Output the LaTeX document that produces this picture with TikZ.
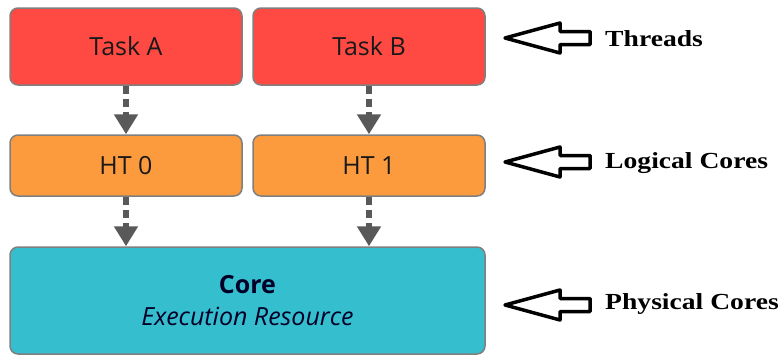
\documentclass[tikz,border=0pt]{standalone}
\usepackage{fontspec}
\setmainfont{Open Sans}
\newfontfamily\labelfont{Liberation Serif}
\usetikzlibrary{arrows.meta}

\definecolor{taskred}{HTML}{FF4A43}
\definecolor{htorange}{HTML}{FC9B3E}
\definecolor{coreteal}{HTML}{35BECE}
\definecolor{boxgray}{HTML}{7F7F7F}
\definecolor{flowgray}{HTML}{595959}

\tikzset{
  unitbox/.style={draw=boxgray, line width=1.5pt, rounded corners=8pt,
    inner sep=0pt, text=black!90,
    font=\fontsize{25}{32}\selectfont},
  flow/.style={draw=flowgray, line width=6pt, dash pattern=on 8pt off 5pt,
    -{Triangle[width=23pt,length=20pt,fill=flowgray]}},
  pointer/.style={draw=black, line width=3.5pt, line join=round},
  layer/.style={anchor=base west, inner sep=0pt, xscale=1.2,
    font=\labelfont\bfseries\fontsize{23}{26}\selectfont}
}

\begin{document}
\begin{tikzpicture}[x=1pt,y=-1pt]
  \useasboundingbox (0,0) rectangle (784,356);

  % threads
  \node[unitbox, fill=taskred, minimum width=232pt, minimum height=77pt]
    (taska) at (126,46.5) {Task A};
  \node[unitbox, fill=taskred, minimum width=232pt, minimum height=77pt]
    (taskb) at (369,46.5) {Task B};

  % logical cores
  \node[unitbox, fill=htorange, minimum width=232pt, minimum height=61pt]
    (ht0) at (126,165.5) {HT 0};
  \node[unitbox, fill=htorange, minimum width=232pt, minimum height=61pt]
    (ht1) at (369,165.5) {HT 1};

  % physical core
  \node[unitbox, fill=coreteal, minimum width=475pt, minimum height=107pt,
    align=center, text=black!85!blue] (core) at (247.5,300.5)
    {\textbf{Core}\\\textit{Execution Resource}};

  % dashed flows
  \draw[flow] (taska.south) -- (ht0.north);
  \draw[flow] (taskb.south) -- (ht1.north);
  \draw[flow] (ht0.south) -- (ht0.south |- core.north);
  \draw[flow] (ht1.south) -- (ht1.south |- core.north);

  % layer labels with hollow pointers
  \foreach \yc/\yb/\txt/\nm in {38/46/Threads/thr,
                                162/168/Logical Cores/lgc,
                                305/309/Physical Cores/phc} {
    \draw[pointer] (505,\yc) -- (560,\yc-15) -- (560,\yc-6.5) -- (590,\yc-6.5)
      -- (590,\yc+6.5) -- (560,\yc+6.5) -- (560,\yc+15) -- cycle;
    \node[layer] (\nm) at (605,\yb) {\txt};
  }
\end{tikzpicture}
\end{document}
